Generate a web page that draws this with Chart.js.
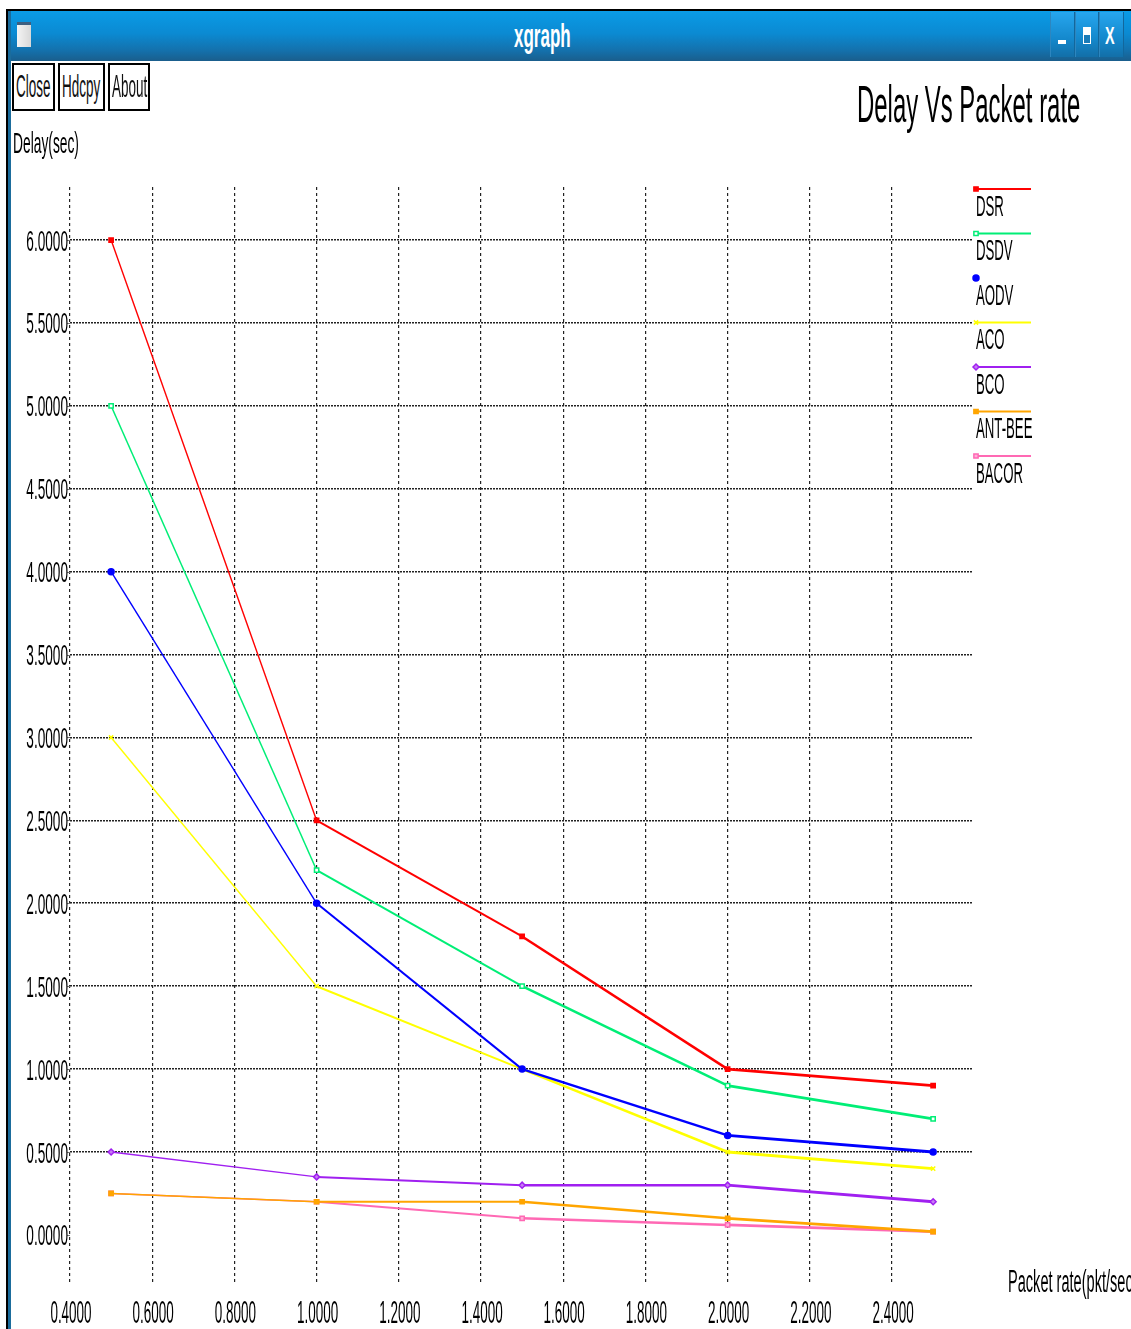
<!DOCTYPE html>
<html>
<head>
<meta charset="utf-8">
<title>xgraph</title>
<script src="https://cdn.jsdelivr.net/npm/chart.js@4.4.1/dist/chart.umd.min.js"></script>
<style>
  html, body { margin: 0; padding: 0; background: #fff; width: 1131px; height: 1329px; overflow: hidden; }
  .chrome { position: absolute; z-index: 2; }
  #frameTop { left: 6px; top: 9px; width: 1125px; height: 2px; background: #000; }
  #frameLeft { left: 6px; top: 9px; width: 2px; height: 1320px; background: #000; }
  #frameLeftBlue { left: 8px; top: 11px; width: 3px; height: 1318px; background: #1b6c9c; }
  #titlebar { left: 8px; top: 11px; width: 1123px; height: 50px;
    background: linear-gradient(#0a9be6, #0b8ad2 45%, #1470ab 80%, #1a5e8c); }
  #icon { left: 17px; top: 22px; width: 14px; height: 25px; box-sizing: border-box;
    border-top: 3px solid #3d5f80; background: linear-gradient(90deg, #f4f4f4, #d8d8d8); }
  #wintitle { left: 514px; top: 18px; font: bold 34px/34px "Liberation Sans", Arial, sans-serif;
    color: #fff; transform: scaleX(0.5); transform-origin: left top; white-space: nowrap; }
  .wbtn { top: 12px; height: 45px; box-sizing: border-box; border-left: 1px solid #2d86bf;
    border-right: 1px solid #12679c; background: linear-gradient(#27a6ee, #1488cc 60%, #136fa8); }
  .sym { position: absolute; background: #fff; }
  .btn { position: absolute; z-index: 2; top: 63px; height: 48px; box-sizing: border-box;
    border: 2px solid #000; background: #fff; }
  .btn span { position: absolute; top: 5.8px; font: 31px/31px "Liberation Sans", Arial, sans-serif;
    color: #111; transform: scaleX(0.435); transform-origin: left top; white-space: nowrap; }
  #plot { position: absolute; left: 0; top: 0; z-index: 1; }
</style>
</head>
<body>
<div class="chrome" id="titlebar"></div>
<div class="chrome" id="frameTop"></div>
<div class="chrome" id="frameLeft"></div>
<div class="chrome" id="frameLeftBlue"></div>
<div class="chrome" id="icon"></div>
<div class="chrome" id="wintitle">xgraph</div>
<div class="chrome wbtn" style="left:1050px;width:25px;"><div class="sym" style="left:7px;top:28px;width:8px;height:4px;"></div></div>
<div class="chrome wbtn" style="left:1075px;width:24px;"><div class="sym" style="left:7px;top:15px;width:8px;height:17px;background:linear-gradient(#fff 45%, #1a7cb8 45%);border:1px solid #fff;box-sizing:border-box;"></div></div>
<div class="chrome wbtn" style="left:1099px;width:25px;"><div style="position:absolute;left:5px;top:12px;color:#fff;font:bold 24px/24px 'Liberation Sans',Arial,sans-serif;transform:scaleX(0.6);transform-origin:left top;">X</div></div>

<div class="btn" style="left:12px;width:43px;"><span style="left:2px;">Close</span></div>
<div class="btn" style="left:58px;width:47px;"><span style="left:2px;">Hdcpy</span></div>
<div class="btn" style="left:108px;width:42px;"><span style="left:2px;">About</span></div>

<canvas id="plot" width="1131" height="1329"></canvas>

<script>
// Packet rate (pkt/sec) on the x axis, delay (sec) for each routing protocol
const packetRates = [0.5, 1.0, 1.5, 2.0, 2.5];
const dsrDelay    = [6.0, 2.5, 1.8, 1.0, 0.9];
const dsdvDelay   = [5.0, 2.2, 1.5, 0.9, 0.7];
const aodvDelay   = [4.0, 2.0, 1.0, 0.6, 0.5];
const acoDelay    = [3.0, 1.5, 1.0, 0.5, 0.4];
const bcoDelay    = [0.5, 0.35, 0.3, 0.3, 0.2];
const antBeeDelay = [0.25, 0.2, 0.2, 0.1, 0.02];
const bacorDelay  = [0.25, 0.2, 0.1, 0.06, 0.02];

const seriesNames  = ['DSR', 'DSDV', 'AODV', 'ACO', 'BCO', 'ANT-BEE', 'BACOR'];
const seriesValues = [dsrDelay, dsdvDelay, aodvDelay, acoDelay, bcoDelay, antBeeDelay, bacorDelay];

const chartTitle = 'Delay Vs Packet rate';
const yAxisTitle = 'Delay(sec)';
const xAxisTitle = 'Packet rate(pkt/sec)';

// drawing styles per series
const seriesStyle = [
  { color: '#ff0000', point: 'rect',     fill: '#ff0000', legendLine: true },
  { color: '#00ee76', point: 'rect',     fill: '#ffffff', legendLine: true },
  { color: '#0000ff', point: 'circle',   fill: '#0000ff', legendLine: false },
  { color: '#ffff00', point: 'crossRot', fill: '#ffff00', legendLine: true },
  { color: '#a020f0', point: 'rectRot',  fill: '#c77df5', legendLine: true },
  { color: '#ffa500', point: 'rect',     fill: '#ffa500', legendLine: true },
  { color: '#ff69b4', point: 'rect',     fill: '#ffb0d8', legendLine: true }
];
// xgraph strokes get heavier towards the right-hand segments
const segmentWidths = [1.4, 2, 2.5, 2.8];

const FONT = '"Liberation Sans", Arial, sans-serif';

function narrowText(ctx, txt, x, y, size, sx, align) {
  ctx.save();
  ctx.font = size + 'px ' + FONT;
  ctx.textAlign = align || 'left';
  ctx.textBaseline = 'alphabetic';
  ctx.fillStyle = '#000';
  ctx.translate(x, y);
  ctx.scale(sx, 1);
  ctx.fillText(txt, 0, 0);
  ctx.restore();
}

// tick labels, titles and the legend in xgraph's narrow lettering
const xgraphDecor = {
  id: 'xgraphDecor',
  afterDraw(chart) {
    const ctx = chart.ctx;
    const xs = chart.scales.x, ys = chart.scales.y;
    const area = chart.chartArea;

    // short tick stubs left of the plot
    ctx.save();
    ctx.strokeStyle = '#777';
    ctx.lineWidth = 1;
    ys.ticks.forEach(t => {
      const py = Math.round(ys.getPixelForValue(t.value)) + 0.5;
      ctx.beginPath(); ctx.moveTo(area.left - 3, py); ctx.lineTo(area.left, py); ctx.stroke();
    });
    ctx.restore();

    ys.ticks.forEach(t => {
      const py = ys.getPixelForValue(t.value);
      narrowText(ctx, t.value.toFixed(4), area.left - 2, py + 10.5, 29, 0.47, 'right');
    });
    xs.ticks.forEach(t => {
      const px = xs.getPixelForValue(t.value);
      narrowText(ctx, t.value.toFixed(4), px + 1, 1323, 31, 0.435, 'center');
    });

    narrowText(ctx, chartTitle, 857, 122, 52, 0.46, 'left');
    narrowText(ctx, yAxisTitle, 13, 153, 30, 0.46, 'left');
    narrowText(ctx, xAxisTitle, 1008, 1292, 31, 0.47, 'left');

    // legend: line sample with marker, name underneath
    chart.data.datasets.forEach((ds, i) => {
      const st = seriesStyle[i];
      const ly = 189 + i * 44.5;
      ctx.save();
      if (st.legendLine) {
        ctx.strokeStyle = st.color;
        ctx.lineWidth = 2;
        ctx.beginPath(); ctx.moveTo(975, ly); ctx.lineTo(1031, ly); ctx.stroke();
      }
      ctx.fillStyle = st.fill;
      ctx.strokeStyle = st.color;
      ctx.lineWidth = 1.5;
      Chart.helpers.drawPoint(ctx, { pointStyle: st.point, radius: 3, rotation: 0, borderWidth: 1.5 }, 976, ly);
      ctx.restore();
      narrowText(ctx, ds.label, 976, ly + 26.5, 30, 0.44, 'left');
    });
  }
};

const datasets = seriesNames.map((name, i) => ({
  label: name,
  data: packetRates.map((x, k) => ({ x: x, y: seriesValues[i][k] })),
  borderColor: seriesStyle[i].color,
  backgroundColor: seriesStyle[i].fill,
  borderWidth: 2,
  segment: { borderWidth: c => segmentWidths[c.p0DataIndex] },
  tension: 0,
  pointStyle: seriesStyle[i].point,
  pointRadius: 3,
  pointBorderWidth: 1.5,
  pointBorderColor: seriesStyle[i].color,
  pointBackgroundColor: seriesStyle[i].fill
}));

new Chart(document.getElementById('plot'), {
  type: 'line',
  data: { datasets: datasets },
  plugins: [xgraphDecor],
  options: {
    responsive: false,
    animation: false,
    devicePixelRatio: 1,
    layout: { padding: { left: 70, right: 158, top: 187, bottom: 46 } },
    plugins: { legend: { display: false }, tooltip: { enabled: false }, title: { display: false } },
    scales: {
      x: {
        type: 'linear',
        min: 0.4,
        max: 2.597,
        ticks: { display: false, stepSize: 0.2, includeBounds: false },
        grid: { color: '#222', lineWidth: 1.2, drawTicks: false },
        border: { display: false, dash: [3, 3] }
      },
      y: {
        type: 'linear',
        min: -0.29,
        max: 6.32,
        ticks: { display: false, stepSize: 0.5, includeBounds: false },
        grid: {
          color: c => (c.tick && Math.abs(c.tick.value) < 1e-9) ? 'rgba(0,0,0,0)' : '#222',
          lineWidth: 1.6,
          drawTicks: false
        },
        border: { display: false, dash: [2, 1] }
      }
    }
  }
});
</script>
</body>
</html>
